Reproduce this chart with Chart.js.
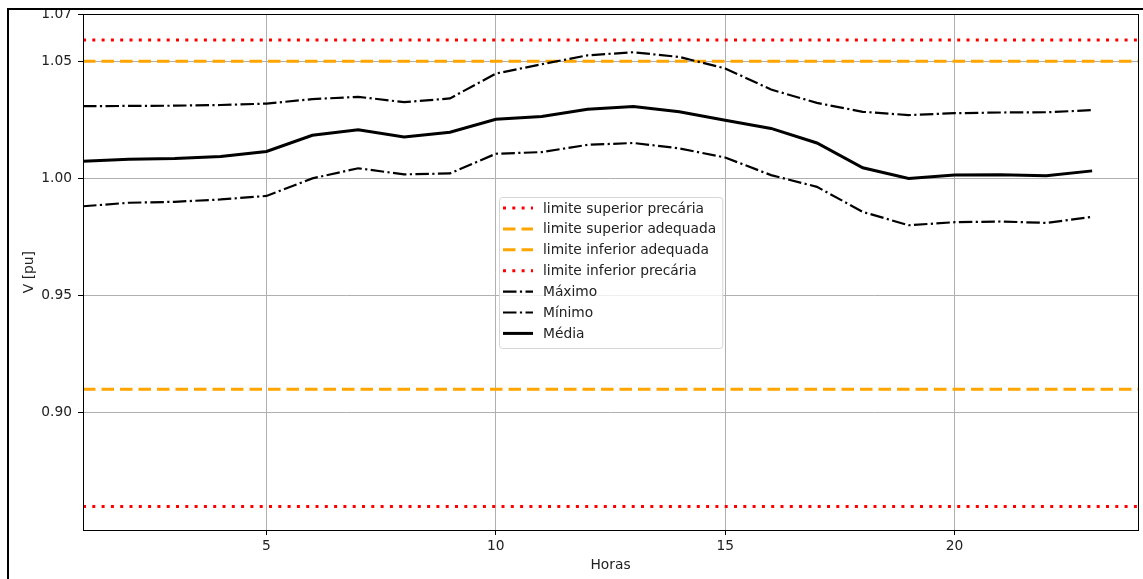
<!DOCTYPE html>
<html>
<head>
<meta charset="utf-8">
<script src="https://cdn.jsdelivr.net/npm/chart.js@4.4.0/dist/chart.umd.min.js"></script>
<style>
  html, body { margin: 0; padding: 0; background: #fff; overflow: hidden; }
</style>
</head>
<body>
<canvas id="grafico-tensao" width="1143" height="579"></canvas>
<script>
// horas do dia
const horas = [1, 2, 3, 4, 5, 6, 7, 8, 9, 10, 11, 12, 13, 14, 15, 16, 17, 18, 19, 20, 21, 22, 23];

// tensões [pu]
const maximo = [1.0308, 1.0309, 1.0310, 1.0313, 1.0319, 1.0338, 1.0348, 1.0325, 1.0341, 1.0447, 1.0487, 1.0525,
                1.0538, 1.0518, 1.0469, 1.0379, 1.0322, 1.0284, 1.0270, 1.0278, 1.0281, 1.0282, 1.0291];
const minimo = [0.9881, 0.9896, 0.9900, 0.9910, 0.9925, 1.0000, 1.0043, 1.0017, 1.0021, 1.0105, 1.0112, 1.0143,
                1.0151, 1.0128, 1.0089, 1.0014, 0.9964, 0.9857, 0.9800, 0.9813, 0.9816, 0.9810, 0.9836];
const media  = [1.0073, 1.0082, 1.0085, 1.0093, 1.0115, 1.0184, 1.0207, 1.0177, 1.0197, 1.0252, 1.0264, 1.0295,
                1.0307, 1.0284, 1.0248, 1.0213, 1.0151, 1.0045, 1.0000, 1.0014, 1.0015, 1.0011, 1.0032];

// limites
const nomesLimites = ["limite superior precária", "limite superior adequada", "limite inferior adequada", "limite inferior precária"];
const valoresLimites = [1.059, 1.05, 0.91, 0.86];

// eixos
const xMin = 1, xMax = 24;
const yMin = 0.85, yMax = 1.07;
const ticksX = [5, 10, 15, 20];
const ticksY = [0.90, 0.95, 1.00, 1.05, 1.07];

const fonte = 'DejaVu Sans';
const tamanho = 13.8;
const pontos = (serie) => horas.map((h, i) => ({ x: h, y: serie[i] }));

const estilosLimites = [
    { cor: '#ff0000', dash: [3, 6.3] },
    { cor: '#ffa500', dash: [12.5, 6] },
    { cor: '#ffa500', dash: [12.5, 6] },
    { cor: '#ff0000', dash: [3, 6.3] }
];

const datasets = nomesLimites.map((nome, i) => ({
    label: nome,
    data: [{ x: xMin, y: valoresLimites[i] }, { x: xMax, y: valoresLimites[i] }],
    borderColor: estilosLimites[i].cor,
    borderDash: estilosLimites[i].dash,
    borderWidth: 3,
    order: 5
}));

datasets.push(
    { label: 'Máximo', data: pontos(maximo), borderColor: '#000', borderDash: [13.5, 3.4, 2.2, 3.4], borderWidth: 2.2, order: 1 },
    { label: 'Mínimo', data: pontos(minimo), borderColor: '#000', borderDash: [13.5, 3.4, 2.2, 3.4], borderWidth: 2.2, order: 1 },
    { label: 'Média', data: pontos(media), borderColor: '#000', borderDash: [], borderWidth: 3, order: 1 }
);

// moldura do gráfico, legenda interna e borda externa
const extras = {
    id: 'extras',
    afterDraw(chart) {
        const ctx = chart.ctx;
        const a = chart.chartArea;
        ctx.save();

        // legenda
        ctx.font = tamanho + 'px "' + fonte + '"';
        const ds = chart.data.datasets;
        const largura = Math.max(...ds.map(d => ctx.measureText(d.label).width));
        const lx = 499, ly = 197, passo = 20.9;
        const w = 44 + largura + 6, h = 151;
        ctx.beginPath();
        ctx.roundRect(lx + 0.5, ly + 0.5, w, h, 3);
        ctx.fillStyle = 'rgba(255,255,255,0.8)';
        ctx.fill();
        ctx.strokeStyle = '#d6d6d6';
        ctx.lineWidth = 1;
        ctx.stroke();
        ds.forEach((d, i) => {
            const cy = ly + 11 + i * passo;
            ctx.beginPath();
            ctx.setLineDash(d.borderDash || []);
            ctx.strokeStyle = d.borderColor;
            ctx.lineWidth = d.borderWidth;
            ctx.moveTo(lx + 4, cy);
            ctx.lineTo(lx + 34, cy);
            ctx.stroke();
            ctx.setLineDash([]);
            ctx.fillStyle = '#222';
            ctx.textBaseline = 'middle';
            ctx.fillText(d.label, lx + 44, cy + 1);
        });

        // contorno da área
        ctx.setLineDash([]);
        ctx.strokeStyle = '#000';
        ctx.lineWidth = 1;
        ctx.strokeRect(Math.round(a.left) + 0.5, Math.round(a.top) + 0.5,
                       Math.round(a.right - a.left), Math.round(a.bottom - a.top));

        // borda externa
        ctx.lineWidth = 2;
        ctx.strokeRect(8, 9, 1300, 700);
        ctx.restore();
    }
};

new Chart(document.getElementById("grafico-tensao"), {
    type: 'line',
    data: { datasets: datasets },
    plugins: [extras],
    options: {
        responsive: false,
        animation: false,
        elements: { point: { radius: 0 }, line: { tension: 0, fill: false } },
        layout: { padding: { top: 14, right: 5, left: 0, bottom: 0 } },
        plugins: { legend: { display: false }, tooltip: { enabled: false } },
        scales: {
            x: {
                type: 'linear',
                min: xMin,
                max: xMax,
                afterBuildTicks: (ax) => { ax.ticks = ticksX.map(v => ({ value: v })); },
                afterFit: (ax) => { ax.height = 49; },
                grid: { color: '#b0b0b0', lineWidth: 1, tickColor: '#000', tickLength: 5 },
                border: { display: false },
                ticks: { color: '#222', padding: 3, font: { family: fonte, size: tamanho }, maxRotation: 0,
                         callback: (v) => String(v) },
                title: { display: true, text: 'Horas', color: '#222', font: { family: fonte, size: tamanho },
                         padding: { top: 0, bottom: 5 } }
            },
            y: {
                min: yMin,
                max: yMax,
                afterBuildTicks: (ax) => { ax.ticks = ticksY.map(v => ({ value: v })); },
                afterFit: (ax) => { ax.width = 83; },
                grid: { color: '#b0b0b0', lineWidth: 1, tickColor: '#000', tickLength: 5 },
                border: { display: false },
                ticks: { color: '#222', padding: 6, font: { family: fonte, size: tamanho },
                         callback: (v) => Number(v).toFixed(2) },
                title: { display: true, text: 'V [pu]', color: '#222', font: { family: fonte, size: tamanho },
                         padding: { top: 21, bottom: 0 } }
            }
        }
    }
});
</script>
</body>
</html>
